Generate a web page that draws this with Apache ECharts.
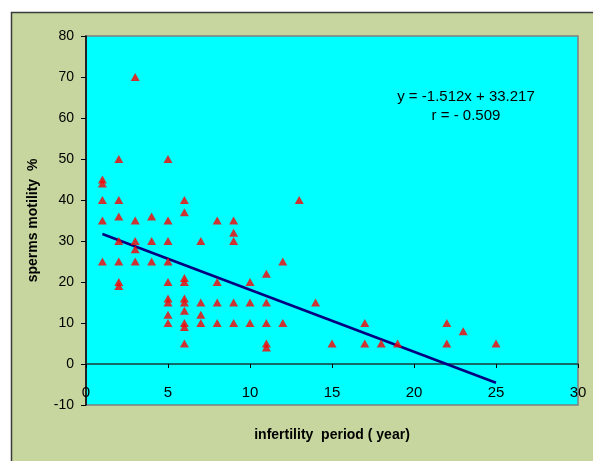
<!DOCTYPE html>
<html>
<head>
<meta charset="utf-8">
<script src="https://cdn.jsdelivr.net/npm/echarts@6/dist/echarts.min.js"></script>
<style>
  html, body { margin: 0; padding: 0; background: #ffffff; }
  #chart { width: 593px; height: 461px; }
</style>
</head>
<body>
<div id="chart"></div>
<script>
// Infertility period (years) and sperm motility (%) for each patient
const periods = [
  1, 1, 1, 1, 1,
  2, 2, 2, 2, 2, 2, 2,
  3, 3, 3, 3, 3,
  4, 4, 4,
  5, 5, 5, 5, 5, 5, 5, 5, 5,
  6, 6, 6, 6, 6, 6, 6, 6, 6, 6,
  7, 7, 7, 7,
  8, 8, 8, 8,
  9, 9, 9, 9, 9,
  10, 10, 10,
  11, 11, 11, 11, 11,
  12, 12,
  13,
  14,
  15,
  17, 17,
  18,
  19,
  22, 22,
  23,
  25
];
const motility = [
  45, 44, 40, 35, 25,
  50, 40, 36, 30, 25, 20, 19,
  70, 35, 30, 28, 25,
  36, 30, 25,
  50, 35, 30, 25, 20, 16, 15, 12, 10,
  40, 37, 21, 20, 16, 15, 13, 10, 9, 5,
  30, 15, 12, 10,
  35, 20, 15, 10,
  35, 32, 30, 15, 10,
  20, 15, 10,
  22, 15, 10, 5, 4,
  25, 10,
  40,
  15,
  5,
  10, 5,
  5,
  5,
  10, 5,
  8,
  5
];

// Fitted regression line: y = slope * x + intercept, drawn over the data range
const slope = -1.512;
const intercept = 33.217;
const rValue = '- 0.509';
const fitRange = [1, 25];

const xTicks = { min: 0, max: 30, step: 5 };
const yTicks = { min: -10, max: 80, step: 10 };

const points = periods.map((p, i) => [p, motility[i]]);
const fitLine = fitRange.map(x => [x, +(slope * x + intercept).toFixed(3)]);

const chart = echarts.init(document.getElementById('chart'), null, { renderer: 'canvas' });
const font = 'Liberation Sans, Arial, sans-serif';

chart.setOption({
  backgroundColor: '#ffffff',
  animation: false,
  textStyle: { fontFamily: font },
  graphic: [
    {
      type: 'rect',
      z: -100,
      shape: { x: 11.5, y: 12.5, width: 600, height: 460 },
      style: { fill: '#c6d69e', stroke: '#3a3a3a', lineWidth: 1.5 }
    },
    {
      type: 'text',
      z: 100,
      x: 466,
      y: 89,
      style: {
        text: 'y = -1.512x + 33.217',
        font: '15px ' + font,
        fill: '#000',
        textAlign: 'center'
      }
    },
    {
      type: 'text',
      z: 100,
      x: 466,
      y: 108,
      style: {
        text: 'r = ' + rValue,
        font: '15px ' + font,
        fill: '#000',
        textAlign: 'center'
      }
    }
  ],
  grid: {
    left: 86, top: 36, width: 492, height: 369,
    outerBoundsMode: 'none',
    containLabel: false,
    show: true,
    backgroundColor: '#00ffff',
    borderColor: '#808080',
    borderWidth: 1.5
  },
  xAxis: {
    type: 'value',
    min: xTicks.min, max: xTicks.max, interval: xTicks.step,
    name: 'infertility  period ( year)',
    nameLocation: 'middle',
    nameGap: 23,
    nameTextStyle: { fontSize: 14, fontWeight: 'bold', color: '#000', fontFamily: font },
    axisLine: { onZero: true, lineStyle: { color: '#1a3a3a', width: 1.5 } },
    axisTick: { show: true, length: 4, lineStyle: { color: '#000' } },
    axisLabel: { fontSize: 15, color: '#000', margin: -20, fontFamily: font },
    splitLine: { show: false }
  },
  yAxis: {
    type: 'value',
    min: yTicks.min, max: yTicks.max, interval: yTicks.step,
    name: 'sperms motility  %',
    nameLocation: 'middle',
    nameGap: 46,
    nameTextStyle: { fontSize: 14, fontWeight: 'bold', color: '#000', fontFamily: font },
    axisLine: { show: true, onZero: false, lineStyle: { color: '#000', width: 1.5 } },
    axisTick: { show: true, length: 5, lineStyle: { color: '#000' } },
    axisLabel: { fontSize: 14, color: '#000', margin: 12, fontFamily: font },
    splitLine: { show: false }
  },
  series: [
    {
      type: 'scatter',
      data: points,
      symbol: 'triangle',
      symbolSize: [9, 8],
      itemStyle: { color: '#ff0000' },
      z: 3
    },
    {
      type: 'line',
      data: fitLine,
      symbol: 'none',
      lineStyle: { color: '#000080', width: 2.5 },
      z: 2
    }
  ]
});
</script>
</body>
</html>
